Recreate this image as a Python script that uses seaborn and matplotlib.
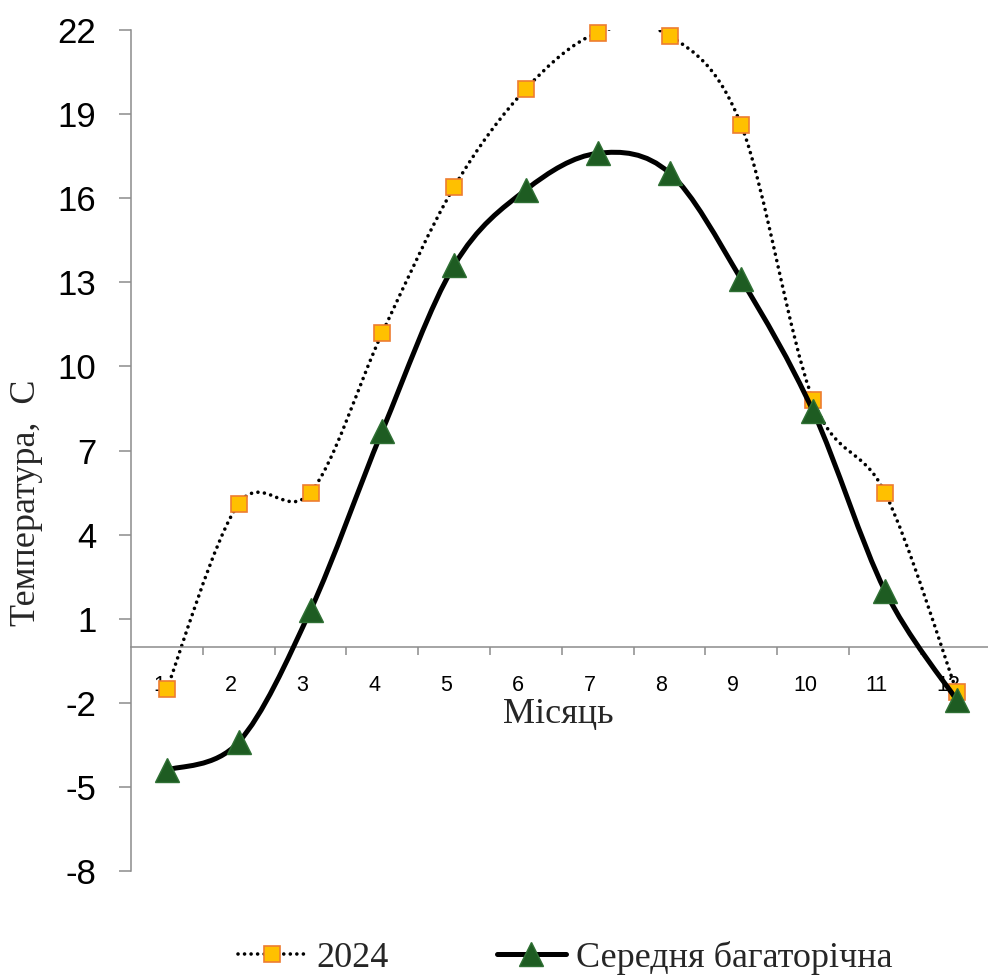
import numpy as np
import pandas as pd
import matplotlib
matplotlib.use("Agg")
import matplotlib.pyplot as plt
import matplotlib.transforms as mtransforms
from matplotlib.path import Path
from matplotlib.patches import PathPatch
from matplotlib.lines import Line2D
import seaborn as sns

# ---- data ----
months = [1, 2, 3, 4, 5, 6, 7, 8, 9, 10, 11, 12]
month_labels = ["1", "2", "3", "4", "5", "6", "7", "8", "9", "10", "11", "12"]
t_2024 = [-1.5, 5.1, 5.5, 11.2, 16.4, 19.9, 21.9, 21.8, 18.6, 8.8, 5.5, -1.6]
t_mean = [-4.4, -3.4, 1.3, 7.7, 13.6, 16.3, 17.6, 16.9, 13.1, 8.4, 2.0, -1.9]
y_ticks = [-8, -5, -2, 1, 4, 7, 10, 13, 16, 19, 22]
series_names = ["2024", "Середня багаторічна"]

sns.set_theme(style="white")
plt.rcParams["font.family"] = ["Liberation Sans", "DejaVu Sans"]

fig = plt.figure(figsize=(9.88, 9.75), dpi=100)
ax = fig.add_axes([131 / 988, 1 - 871 / 975, 861.6 / 988, 841 / 975])

def smooth_path(xs, ys, t=1 / 6):
    """Excel-like smoothed line: cubic Bezier segments through the points."""
    pts = np.column_stack([xs, ys]).astype(float)
    n = len(pts)
    verts = [pts[0]]
    codes = [Path.MOVETO]
    for i in range(n - 1):
        p0 = pts[i - 1] if i > 0 else pts[i]
        p1 = pts[i]
        p2 = pts[i + 1]
        p3 = pts[i + 2] if i + 2 < n else pts[i + 1]
        c1 = p1 + (p2 - p0) * t
        c2 = p2 - (p3 - p1) * t
        verts += [c1, c2, p2]
        codes += [Path.CURVE4] * 3
    return Path(verts, codes)

# 2024 dotted smooth line
ax.add_patch(PathPatch(smooth_path(months, t_2024), facecolor="none", edgecolor="black",
                       lw=2.6, linestyle=(0, (0.01, 1.8)), capstyle="round", zorder=2))
df24 = pd.DataFrame({"Місяць": months, "t": t_2024})
sns.lineplot(data=df24, x="Місяць", y="t", ax=ax, linestyle="", marker="s", ms=11,
             markerfacecolor="#FFC000", markeredgecolor="#ED7D31", markeredgewidth=1.2,
             clip_on=False, zorder=3)

# mean solid smooth line
ax.add_patch(PathPatch(smooth_path(months, t_mean), facecolor="none", edgecolor="black",
                       lw=3.6, capstyle="round", zorder=4))
dfm = pd.DataFrame({"Місяць": months, "t": t_mean})
sns.lineplot(data=dfm, x="Місяць", y="t", ax=ax, linestyle="", marker="^", ms=17,
             markerfacecolor="#1E5C22", markeredgecolor="#2F7034", markeredgewidth=1.0,
             clip_on=False, zorder=5)

ax.set_xlim(0.5, 12.5)
ax.set_ylim(-8, 22)

# axes styling
gray = "#8C8C8C"
for s in ["top", "right"]:
    ax.spines[s].set_visible(False)
ax.spines["left"].set_color(gray)
ax.spines["left"].set_linewidth(1.1)
ax.spines["bottom"].set_position(("data", 0))
ax.spines["bottom"].set_color(gray)
ax.spines["bottom"].set_linewidth(1.1)

ax.set_yticks(y_ticks)
ax.set_yticklabels([str(v) for v in y_ticks])
ax.tick_params(axis="y", which="major", direction="out", length=9, width=1.1,
               color=gray, labelsize=25, pad=16, left=True, labelcolor="black")

ax.set_xticks(months)
ax.set_xticklabels(month_labels)
ax.set_xticks([m + 0.5 for m in months[:-1]], minor=True)
ax.tick_params(axis="x", which="major", length=0, labelsize=15.5, pad=20, labelcolor="black")
ax.tick_params(axis="x", which="minor", direction="out", length=6, width=1.1,
               color=gray, bottom=True)
shift = mtransforms.ScaledTranslation(-8 / 100, 0, fig.dpi_scale_trans)
for lbl in ax.get_xticklabels():
    lbl.set_transform(lbl.get_transform() + shift)

ax.set_xlabel("Місяць", fontsize=26, family=["Liberation Serif", "DejaVu Serif"])
ax.xaxis.label.set_va("center")
ax.xaxis.set_label_coords((558 - 131) / 861.6, (871 - 715) / 841)
ax.set_ylabel("Температура,  С", fontsize=26, family=["Liberation Serif", "DejaVu Serif"])
ax.yaxis.label.set_va("center")
ax.yaxis.set_label_coords((26 - 131) / 861.6, (871 - 503) / 841)
ax.grid(False)

handles = [
    Line2D([], [], color="black", lw=2.6, linestyle=(0, (0.01, 1.8)), dash_capstyle="round",
           marker="s", ms=11, markerfacecolor="#FFC000", markeredgecolor="#ED7D31",
           markeredgewidth=1.2),
    Line2D([], [], color="black", lw=3.6, marker="^", ms=17, markerfacecolor="#1E5C22",
           markeredgecolor="#2F7034", markeredgewidth=1.0),
]
fig.legend(handles, series_names, loc="center", bbox_to_anchor=(565 / 988, 1 - 958 / 975),
           ncol=2, frameon=False, handlelength=1.9, handletextpad=0.28, columnspacing=3.0,
           borderpad=0, prop={"family": ["Liberation Serif", "DejaVu Serif"], "size": 26})

fig.savefig("out.png", dpi=100)
